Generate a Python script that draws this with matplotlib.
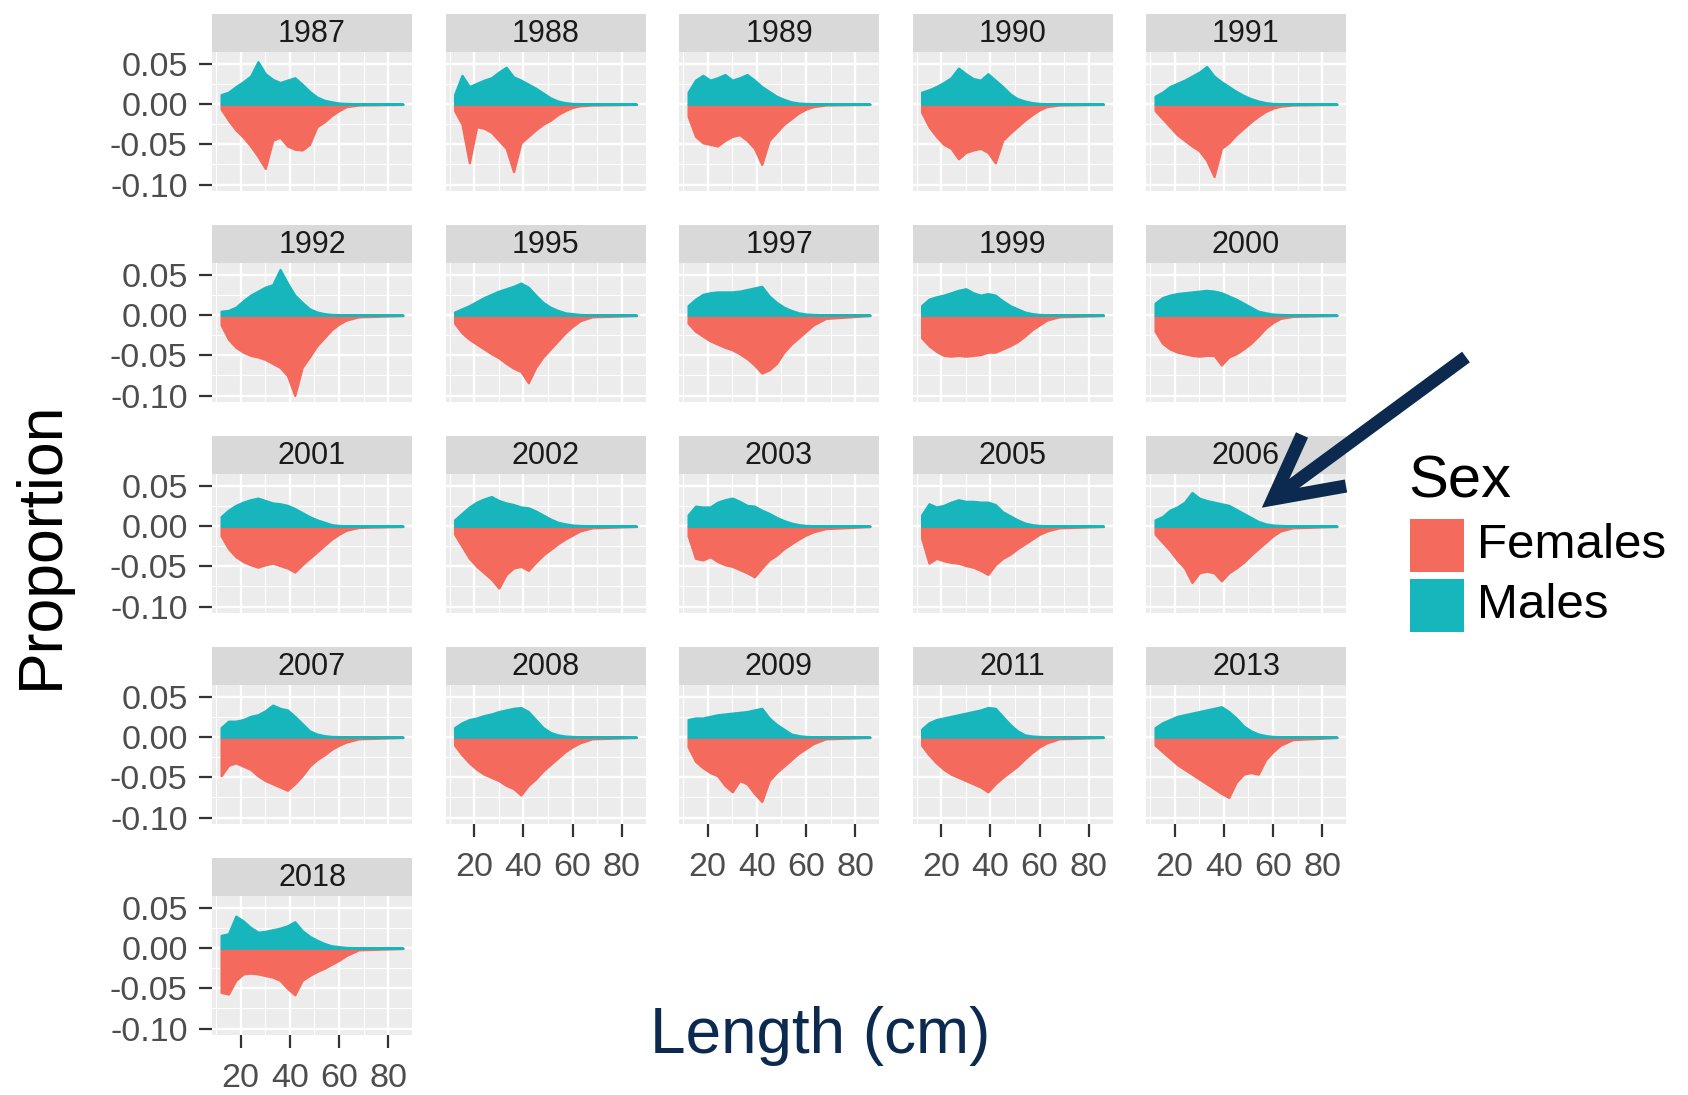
import matplotlib.pyplot as plt
from matplotlib.lines import Line2D
from matplotlib.patches import Rectangle

plt.rcParams['font.family'] = ['Liberation Sans', 'DejaVu Sans']

# facet years, in wrap order (5 per row)
years = ['1987', '1988', '1989', '1990', '1991',
         '1992', '1995', '1997', '1999', '2000',
         '2001', '2002', '2003', '2005', '2006',
         '2007', '2008', '2009', '2011', '2013',
         '2018']

# length classes (cm)
lengths = [12, 15, 18, 21, 24, 27, 30, 33, 36, 39, 42, 45, 48, 51, 54, 57, 60, 63, 68, 86]

# upper envelope of the sampled length compositions, males and females
m_1987 = [0.012, 0.015, 0.022, 0.028, 0.035, 0.053, 0.038, 0.031, 0.027, 0.030, 0.033, 0.025, 0.016, 0.009, 0.005, 0.003, 0.0015, 0.001, 0.0006, 0.0003]
f_1987 = [0.006, 0.020, 0.032, 0.041, 0.052, 0.065, 0.080, 0.045, 0.041, 0.052, 0.056, 0.057, 0.050, 0.028, 0.022, 0.014, 0.008, 0.003, 0.001, 0.0003]
m_1988 = [0.012, 0.036, 0.022, 0.026, 0.030, 0.033, 0.040, 0.046, 0.034, 0.030, 0.025, 0.020, 0.014, 0.008, 0.004, 0.002, 0.001, 0.0008, 0.0005, 0.0003]
f_1988 = [0.008, 0.025, 0.073, 0.028, 0.030, 0.035, 0.045, 0.055, 0.084, 0.048, 0.040, 0.032, 0.025, 0.020, 0.013, 0.008, 0.004, 0.002, 0.001, 0.0003]
m_1989 = [0.015, 0.030, 0.036, 0.030, 0.033, 0.037, 0.030, 0.033, 0.037, 0.030, 0.022, 0.016, 0.010, 0.006, 0.003, 0.0015, 0.001, 0.0007, 0.0005, 0.0003]
f_1989 = [0.015, 0.040, 0.048, 0.050, 0.052, 0.045, 0.040, 0.038, 0.045, 0.055, 0.075, 0.045, 0.035, 0.025, 0.018, 0.011, 0.006, 0.003, 0.001, 0.0003]
m_1990 = [0.015, 0.018, 0.022, 0.027, 0.033, 0.045, 0.038, 0.032, 0.030, 0.038, 0.030, 0.022, 0.013, 0.007, 0.004, 0.002, 0.001, 0.0007, 0.0005, 0.0003]
f_1990 = [0.010, 0.028, 0.040, 0.050, 0.055, 0.068, 0.060, 0.057, 0.055, 0.060, 0.073, 0.045, 0.036, 0.028, 0.020, 0.013, 0.007, 0.003, 0.001, 0.0003]
m_1991 = [0.010, 0.015, 0.022, 0.026, 0.030, 0.035, 0.040, 0.047, 0.035, 0.028, 0.022, 0.016, 0.011, 0.007, 0.004, 0.002, 0.001, 0.0007, 0.0005, 0.0003]
f_1991 = [0.008, 0.018, 0.028, 0.038, 0.045, 0.052, 0.058, 0.070, 0.090, 0.055, 0.048, 0.038, 0.030, 0.022, 0.015, 0.009, 0.005, 0.0025, 0.001, 0.0003]
m_1992 = [0.005, 0.006, 0.010, 0.018, 0.025, 0.030, 0.035, 0.038, 0.057, 0.040, 0.025, 0.016, 0.008, 0.004, 0.002, 0.001, 0.0008, 0.0005, 0.0003, 0.0002]
f_1992 = [0.012, 0.030, 0.040, 0.046, 0.050, 0.052, 0.055, 0.060, 0.065, 0.075, 0.100, 0.065, 0.052, 0.038, 0.028, 0.018, 0.011, 0.006, 0.002, 0.0005]
m_1995 = [0.004, 0.008, 0.012, 0.017, 0.022, 0.026, 0.030, 0.033, 0.036, 0.040, 0.035, 0.025, 0.016, 0.010, 0.006, 0.003, 0.002, 0.001, 0.0005, 0.0003]
f_1995 = [0.010, 0.022, 0.030, 0.036, 0.042, 0.048, 0.053, 0.060, 0.066, 0.070, 0.084, 0.065, 0.052, 0.042, 0.032, 0.022, 0.014, 0.007, 0.002, 0.0005]
m_1997 = [0.012, 0.020, 0.026, 0.028, 0.029, 0.029, 0.029, 0.030, 0.032, 0.034, 0.036, 0.024, 0.016, 0.010, 0.006, 0.003, 0.0015, 0.001, 0.0005, 0.0003]
f_1997 = [0.010, 0.020, 0.026, 0.032, 0.036, 0.040, 0.043, 0.048, 0.054, 0.062, 0.072, 0.068, 0.060, 0.046, 0.036, 0.028, 0.020, 0.012, 0.004, 0.0005]
m_1999 = [0.012, 0.020, 0.023, 0.025, 0.028, 0.031, 0.033, 0.028, 0.025, 0.027, 0.025, 0.018, 0.012, 0.008, 0.004, 0.002, 0.001, 0.0007, 0.0005, 0.0003]
f_1999 = [0.028, 0.038, 0.045, 0.050, 0.051, 0.050, 0.051, 0.050, 0.049, 0.046, 0.046, 0.042, 0.038, 0.033, 0.026, 0.018, 0.012, 0.006, 0.002, 0.0005]
m_2000 = [0.015, 0.022, 0.025, 0.027, 0.028, 0.029, 0.030, 0.031, 0.030, 0.028, 0.024, 0.020, 0.015, 0.010, 0.005, 0.003, 0.0015, 0.001, 0.0005, 0.0003]
f_2000 = [0.020, 0.035, 0.042, 0.046, 0.048, 0.050, 0.051, 0.050, 0.050, 0.062, 0.052, 0.048, 0.042, 0.035, 0.026, 0.016, 0.009, 0.004, 0.0015, 0.0004]
m_2001 = [0.012, 0.020, 0.026, 0.030, 0.033, 0.035, 0.032, 0.029, 0.028, 0.026, 0.022, 0.017, 0.012, 0.008, 0.005, 0.002, 0.001, 0.0007, 0.0005, 0.0003]
f_2001 = [0.012, 0.028, 0.038, 0.044, 0.048, 0.051, 0.048, 0.046, 0.049, 0.052, 0.057, 0.048, 0.040, 0.032, 0.024, 0.016, 0.010, 0.005, 0.0015, 0.0004]
m_2002 = [0.008, 0.016, 0.024, 0.030, 0.034, 0.037, 0.032, 0.029, 0.027, 0.024, 0.023, 0.019, 0.014, 0.009, 0.005, 0.003, 0.0015, 0.001, 0.0005, 0.0003]
f_2002 = [0.010, 0.025, 0.040, 0.050, 0.058, 0.066, 0.077, 0.060, 0.052, 0.050, 0.055, 0.045, 0.036, 0.029, 0.022, 0.016, 0.011, 0.006, 0.002, 0.0004]
m_2003 = [0.014, 0.025, 0.024, 0.024, 0.030, 0.033, 0.035, 0.031, 0.026, 0.025, 0.020, 0.016, 0.011, 0.007, 0.004, 0.002, 0.001, 0.0007, 0.0005, 0.0003]
f_2003 = [0.012, 0.040, 0.042, 0.038, 0.044, 0.048, 0.050, 0.054, 0.058, 0.063, 0.052, 0.042, 0.036, 0.028, 0.022, 0.016, 0.011, 0.007, 0.003, 0.0005]
m_2005 = [0.014, 0.028, 0.024, 0.026, 0.030, 0.033, 0.031, 0.031, 0.030, 0.030, 0.027, 0.018, 0.013, 0.008, 0.004, 0.002, 0.001, 0.0007, 0.0005, 0.0003]
f_2005 = [0.015, 0.046, 0.040, 0.043, 0.045, 0.046, 0.049, 0.051, 0.055, 0.060, 0.048, 0.040, 0.035, 0.028, 0.022, 0.016, 0.010, 0.006, 0.002, 0.0004]
m_2006 = [0.008, 0.012, 0.020, 0.024, 0.030, 0.042, 0.035, 0.032, 0.030, 0.028, 0.026, 0.021, 0.016, 0.011, 0.006, 0.003, 0.0015, 0.001, 0.0005, 0.0003]
f_2006 = [0.010, 0.020, 0.030, 0.042, 0.052, 0.070, 0.058, 0.056, 0.058, 0.068, 0.058, 0.052, 0.045, 0.036, 0.028, 0.020, 0.012, 0.006, 0.002, 0.0004]
m_2007 = [0.012, 0.020, 0.020, 0.022, 0.026, 0.028, 0.033, 0.040, 0.036, 0.034, 0.026, 0.017, 0.008, 0.004, 0.002, 0.001, 0.0008, 0.0005, 0.0003, 0.0002]
f_2007 = [0.048, 0.035, 0.032, 0.036, 0.040, 0.048, 0.054, 0.058, 0.062, 0.066, 0.058, 0.048, 0.036, 0.028, 0.022, 0.015, 0.010, 0.006, 0.002, 0.0004]
m_2008 = [0.012, 0.018, 0.022, 0.024, 0.027, 0.029, 0.032, 0.034, 0.036, 0.037, 0.032, 0.022, 0.012, 0.006, 0.003, 0.0015, 0.001, 0.0006, 0.0004, 0.0002]
f_2008 = [0.010, 0.022, 0.032, 0.040, 0.046, 0.050, 0.054, 0.060, 0.064, 0.072, 0.060, 0.052, 0.042, 0.034, 0.026, 0.018, 0.012, 0.007, 0.002, 0.0004]
m_2009 = [0.022, 0.024, 0.024, 0.026, 0.028, 0.029, 0.030, 0.031, 0.032, 0.034, 0.036, 0.024, 0.016, 0.010, 0.004, 0.002, 0.001, 0.0006, 0.0004, 0.0002]
f_2009 = [0.012, 0.030, 0.038, 0.044, 0.048, 0.060, 0.068, 0.054, 0.058, 0.070, 0.080, 0.054, 0.044, 0.036, 0.028, 0.020, 0.014, 0.008, 0.002, 0.0004]
m_2011 = [0.010, 0.018, 0.022, 0.024, 0.026, 0.028, 0.030, 0.032, 0.034, 0.037, 0.036, 0.026, 0.016, 0.008, 0.003, 0.0015, 0.001, 0.0006, 0.0004, 0.0002]
f_2011 = [0.010, 0.022, 0.032, 0.040, 0.046, 0.050, 0.054, 0.058, 0.062, 0.068, 0.058, 0.050, 0.043, 0.036, 0.027, 0.019, 0.012, 0.007, 0.002, 0.0004]
m_2013 = [0.012, 0.018, 0.022, 0.026, 0.028, 0.030, 0.032, 0.034, 0.036, 0.038, 0.032, 0.024, 0.014, 0.008, 0.004, 0.002, 0.001, 0.0006, 0.0004, 0.0002]
f_2013 = [0.010, 0.018, 0.026, 0.034, 0.040, 0.046, 0.052, 0.058, 0.064, 0.070, 0.075, 0.056, 0.046, 0.044, 0.046, 0.028, 0.018, 0.010, 0.003, 0.0004]
m_2018 = [0.016, 0.018, 0.040, 0.034, 0.026, 0.020, 0.021, 0.023, 0.025, 0.028, 0.033, 0.022, 0.015, 0.010, 0.006, 0.003, 0.002, 0.001, 0.0006, 0.0003]
f_2018 = [0.055, 0.057, 0.040, 0.032, 0.031, 0.032, 0.034, 0.036, 0.040, 0.050, 0.058, 0.040, 0.034, 0.029, 0.025, 0.020, 0.015, 0.009, 0.002, 0.0004]

males = [m_1987, m_1988, m_1989, m_1990, m_1991,
         m_1992, m_1995, m_1997, m_1999, m_2000,
         m_2001, m_2002, m_2003, m_2005, m_2006,
         m_2007, m_2008, m_2009, m_2011, m_2013,
         m_2018]
females = [f_1987, f_1988, f_1989, f_1990, f_1991,
           f_1992, f_1995, f_1997, f_1999, f_2000,
           f_2001, f_2002, f_2003, f_2005, f_2006,
           f_2007, f_2008, f_2009, f_2011, f_2013,
           f_2018]

RED = '#F46B5E'
TEAL = '#17B6BC'
NAVY = '#0C2A4F'

W, H = 1688, 1095
fig = plt.figure(figsize=(W / 100, H / 100), dpi=100)


def add_box(x, y, w, h):
    """axes placed in pixel units from the top-left corner"""
    return fig.add_axes([x / W, 1 - (y + h) / H, w / W, h / H])


for i, year in enumerate(years):
    row, col = divmod(i, 5)
    x0 = 212 + 233.5 * col
    y0 = 14 + 211 * row

    # facet strip
    st = add_box(x0, y0, 200, 38)
    st.set_facecolor('#D9D9D9')
    st.set_xticks([])
    st.set_yticks([])
    for s in st.spines.values():
        s.set_visible(False)
    st.text(0.5, 0.47, year, ha='center', va='center', fontsize=22,
            color='#1A1A1A', transform=st.transAxes)

    # panel
    ax = add_box(x0, y0 + 38, 200, 139)
    ax.set_facecolor('#ECECEC')
    ax.fill_between(lengths, [-v for v in females[i]], 0, facecolor=RED,
                    edgecolor=RED, lw=1.6, zorder=2)
    ax.fill_between(lengths, 0, males[i], facecolor=TEAL,
                    edgecolor=TEAL, lw=1.6, zorder=3)
    ax.set_xlim(8.3, 89.7)
    ax.set_ylim(-0.108, 0.065)
    ax.set_xticks([20, 40, 60, 80])
    ax.set_xticks([10, 30, 50, 70], minor=True)
    ax.set_yticks([-0.10, -0.05, 0.0, 0.05])
    ax.set_yticks([-0.075, -0.025, 0.025], minor=True)
    ax.grid(which='major', color='white', lw=1.7)
    ax.grid(which='minor', color='white', lw=0.8)
    ax.set_axisbelow(True)
    for s in ax.spines.values():
        s.set_visible(False)
    ax.tick_params(which='minor', length=0)
    ax.tick_params(which='major', length=9.5, width=1.6, color='#333333',
                   labelcolor='#4D4D4D', labelsize=24.5, pad=8)
    ax.tick_params(axis='x', pad=11)
    if col == 0:
        ax.set_yticklabels(['-0.10', '-0.05', '0.00', '0.05'])
    else:
        ax.tick_params(axis='y', left=False, labelleft=False)
    if i >= 16:
        ax.set_xticklabels(['20', '40', '60', '80'])
    else:
        ax.tick_params(axis='x', bottom=False, labelbottom=False)

# axis titles
fig.text(41 / W, 1 - 545 / H, 'Proportion', rotation=90, fontsize=45,
         ha='center', va='center', color='black')
fig.text(820 / W, 1 - 1036 / H, 'Length (cm)', fontsize=46,
         ha='center', va='center', color=NAVY)

# legend
fig.text(1408 / W, 1 - 497 / H, 'Sex', fontsize=43, va='baseline', color='black')
for ytop, colr, lab in [(519, RED, 'Females'), (579, TEAL, 'Males')]:
    fig.add_artist(Rectangle((1410 / W, 1 - (ytop + 53) / H), 54 / W, 53 / H,
                             transform=fig.transFigure, facecolor=colr,
                             edgecolor='none'))
    fig.text(1477 / W, 1 - (ytop + 27) / H, lab, fontsize=35.5,
             va='center', color='black')

# arrow pointing at the 2006 panel
tip = (1273, 499)
arrow_parts = [[(1466, 357), tip], [(1302, 435), tip, (1346, 486)]]
for part in arrow_parts:
    xs = [p[0] / W for p in part]
    ys = [1 - p[1] / H for p in part]
    fig.add_artist(Line2D(xs, ys, transform=fig.transFigure, color=NAVY,
                          lw=9.5, solid_capstyle='butt', solid_joinstyle='miter'))

fig.savefig('out.png', dpi=100)
